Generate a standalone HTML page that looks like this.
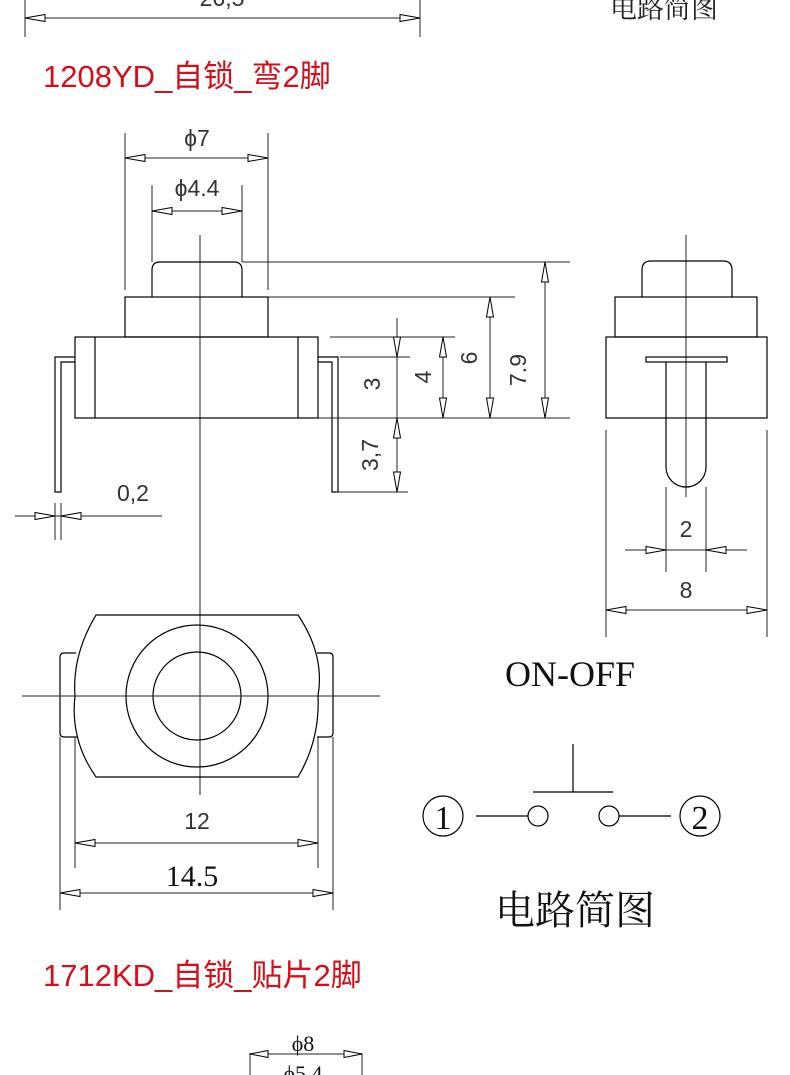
<!DOCTYPE html>
<html><head><meta charset="utf-8"><style>
html,body{margin:0;padding:0;background:#fff;}
svg{display:block;}
.l{stroke:#000;stroke-width:1.2;fill:none;}
.t{stroke:#222;stroke-width:1;fill:none;}
.a{stroke:#000;stroke-width:1;fill:#fff;}
.d{font-family:"Liberation Sans",sans-serif;font-size:23px;fill:#333;text-anchor:middle;}
.s{font-family:"Liberation Serif",serif;fill:#111;text-anchor:middle;}
.r{font-family:"Liberation Sans","Noto Sans CJK SC",sans-serif;font-size:31px;fill:#d0101a;}
</style></head><body>
<svg width="790" height="1075" viewBox="0 0 790 1075" xmlns="http://www.w3.org/2000/svg">
<line class="t" x1="25" y1="0" x2="25" y2="37"/><line class="t" x1="420" y1="0" x2="420" y2="37"/>
<line class="t" x1="25" y1="18" x2="420" y2="18"/>
<polygon class="a" points="25,18 45,14.5 45,21.5"/><polygon class="a" points="420,18 400,14.5 400,21.5"/>
<text class="d" x="222" y="6" fill="#666">26,5</text>
<text x="664" y="18" font-family="'Liberation Sans','Noto Serif CJK SC',serif" font-size="27" fill="#222" text-anchor="middle">电路简图</text>
<text class="r" x="43" y="87">1208YD_自锁_弯2脚</text>

<line class="t" x1="200" y1="235" x2="200" y2="795"/>
<path class="l" d="M152,297 V270 Q152,262 160,262 H234 Q242,262 242,270 V297"/>
<rect class="l" x="125" y="297" width="143" height="40"/>
<rect class="l" x="75" y="337" width="243" height="81"/>
<line class="l" x1="95" y1="337" x2="95" y2="418"/><line class="l" x1="298" y1="337" x2="298" y2="418"/>
<path class="l" d="M75,357 H55 V492 H61 V362 H75"/>
<path class="l" d="M318,357 H338 V492 H332 V362 H318"/>
<line class="t" x1="125" y1="133" x2="125" y2="290"/><line class="t" x1="268" y1="133" x2="268" y2="290"/>
<line class="t" x1="125" y1="158" x2="268" y2="158"/>
<polygon class="a" points="125,158 145,154.5 145,161.5"/><polygon class="a" points="268,158 248,154.5 248,161.5"/>
<text class="d" x="197" y="146">ϕ7</text>
<line class="t" x1="152" y1="185" x2="152" y2="262"/><line class="t" x1="242" y1="185" x2="242" y2="262"/>
<line class="t" x1="152" y1="211" x2="242" y2="211"/>
<polygon class="a" points="152,211 172,207.5 172,214.5"/><polygon class="a" points="242,211 222,207.5 222,214.5"/>
<text class="d" x="197" y="196">ϕ4.4</text>
<line class="t" x1="242" y1="262" x2="570" y2="262"/>
<line class="t" x1="268" y1="297" x2="515" y2="297"/>
<line class="t" x1="330" y1="337" x2="455" y2="337"/>
<line class="t" x1="340" y1="357" x2="410" y2="357"/>
<line class="t" x1="318" y1="418" x2="570" y2="418"/>
<line class="t" x1="336" y1="492" x2="408" y2="492"/>
<line class="t" x1="397" y1="318" x2="397" y2="492"/>
<polygon class="a" points="397,357 393.5,337 400.5,337"/>
<polygon class="a" points="397,418 393.5,438 400.5,438"/>
<polygon class="a" points="397,492 393.5,472 400.5,472"/>
<line class="t" x1="443" y1="337" x2="443" y2="418"/>
<polygon class="a" points="443,337 439.5,357 446.5,357"/><polygon class="a" points="443,418 439.5,398 446.5,398"/>
<line class="t" x1="490" y1="297" x2="490" y2="418"/>
<polygon class="a" points="490,297 486.5,317 493.5,317"/><polygon class="a" points="490,418 486.5,398 493.5,398"/>
<line class="t" x1="545" y1="262" x2="545" y2="418"/>
<polygon class="a" points="545,262 541.5,282 548.5,282"/><polygon class="a" points="545,418 541.5,398 548.5,398"/>
<text class="d" transform="translate(380,384) rotate(-90)">3</text>
<text class="d" transform="translate(431,377) rotate(-90)">4</text>
<text class="d" transform="translate(477,358) rotate(-90)">6</text>
<text class="d" transform="translate(526,370) rotate(-90)" fill="#222" font-size="25">7.9</text>
<text class="d" transform="translate(378,455) rotate(-90)">3,7</text>
<line class="t" x1="55" y1="503" x2="55" y2="540"/><line class="t" x1="61" y1="503" x2="61" y2="540"/>
<line class="t" x1="15" y1="516" x2="162" y2="516"/>
<polygon class="a" points="55,516 35,512.5 35,519.5"/><polygon class="a" points="61,516 81,512.5 81,519.5"/>
<text class="d" x="133" y="501">0,2</text>

<line class="t" x1="686" y1="235" x2="686" y2="497"/>
<path class="l" d="M642,297 V270 Q642,261 651,261 H723 Q732,261 732,270 V297"/>
<rect class="l" x="615" y="297" width="142" height="40"/>
<rect class="l" x="606" y="337" width="161" height="81"/>
<rect class="l" x="646" y="357" width="81" height="5"/>
<path class="l" d="M666,362 V467 A20,20 0 0 0 706,467 V362"/>
<line class="t" x1="666" y1="487" x2="666" y2="572"/><line class="t" x1="706" y1="487" x2="706" y2="572"/>
<line class="t" x1="606" y1="430" x2="606" y2="637"/><line class="t" x1="767" y1="430" x2="767" y2="637"/>
<line class="t" x1="625" y1="550" x2="747" y2="550"/>
<polygon class="a" points="666,550 646,546.5 646,553.5"/><polygon class="a" points="706,550 726,546.5 726,553.5"/>
<text class="d" x="686" y="537">2</text>
<line class="t" x1="606" y1="610" x2="767" y2="610"/>
<polygon class="a" points="606,610 626,606.5 626,613.5"/><polygon class="a" points="767,610 747,606.5 747,613.5"/>
<text class="d" x="686" y="598">8</text>

<path class="l" d="M96,615 H298 Q325,655 318,696 Q320,740 298,777 H96 Q70,740 75,696 Q72,655 96,615 Z"/>
<path class="l" d="M76,653 H64 Q60,653 60,657 V733 Q60,737 64,737 H78"/>
<path class="l" d="M317,653 H329 Q333,653 333,657 V733 Q333,737 329,737 H317"/>
<circle class="l" cx="197" cy="696" r="71"/>
<circle class="l" cx="197" cy="696" r="44"/>
<line class="t" x1="22" y1="696" x2="380" y2="696"/>
<line class="t" x1="75" y1="737" x2="75" y2="868"/><line class="t" x1="318" y1="737" x2="318" y2="868"/>
<line class="t" x1="75" y1="843" x2="318" y2="843"/>
<polygon class="a" points="75,843 95,839.5 95,846.5"/><polygon class="a" points="318,843 298,839.5 298,846.5"/>
<text class="d" x="197" y="829">12</text>
<line class="t" x1="60" y1="737" x2="60" y2="910"/><line class="t" x1="333" y1="737" x2="333" y2="910"/>
<line class="t" x1="60" y1="893" x2="333" y2="893"/>
<polygon class="a" points="60,893 80,889.5 80,896.5"/><polygon class="a" points="333,893 313,889.5 313,896.5"/>
<text class="s" x="192" y="886" font-size="30">14.5</text>

<text class="s" x="570" y="686" font-size="36">ON-OFF</text>
<circle class="l" cx="443" cy="816" r="20"/><text class="s" x="443" y="829" font-size="34">1</text>
<line class="l" x1="476" y1="816" x2="528" y2="816"/>
<circle class="l" cx="538" cy="816" r="10"/>
<circle class="l" cx="609" cy="816" r="10"/>
<line class="l" x1="619" y1="816" x2="671" y2="816"/>
<circle class="l" cx="700" cy="816" r="20"/><text class="s" x="700" y="829" font-size="34">2</text>
<line class="l" x1="573" y1="744" x2="573" y2="792"/>
<line class="l" x1="533" y1="792" x2="613" y2="792"/>
<text x="575" y="924" font-family="'Liberation Serif','Noto Serif CJK SC',serif" font-size="40" fill="#111" text-anchor="middle">电路简图</text>

<text class="r" x="43" y="986">1712KD_自锁_贴片2脚</text>
<line class="t" x1="250" y1="1053" x2="250" y2="1075"/><line class="t" x1="362" y1="1053" x2="362" y2="1075"/>
<line class="t" x1="250" y1="1054" x2="362" y2="1054"/>
<polygon class="a" points="250,1054 268,1050.5 268,1057.5"/><polygon class="a" points="362,1054 344,1050.5 344,1057.5"/>
<text class="s" x="303" y="1051" font-size="22" fill="#333">ϕ8</text>
<text class="s" x="303" y="1081" font-size="22" fill="#333">ϕ5.4</text>
</svg>
</body></html>
